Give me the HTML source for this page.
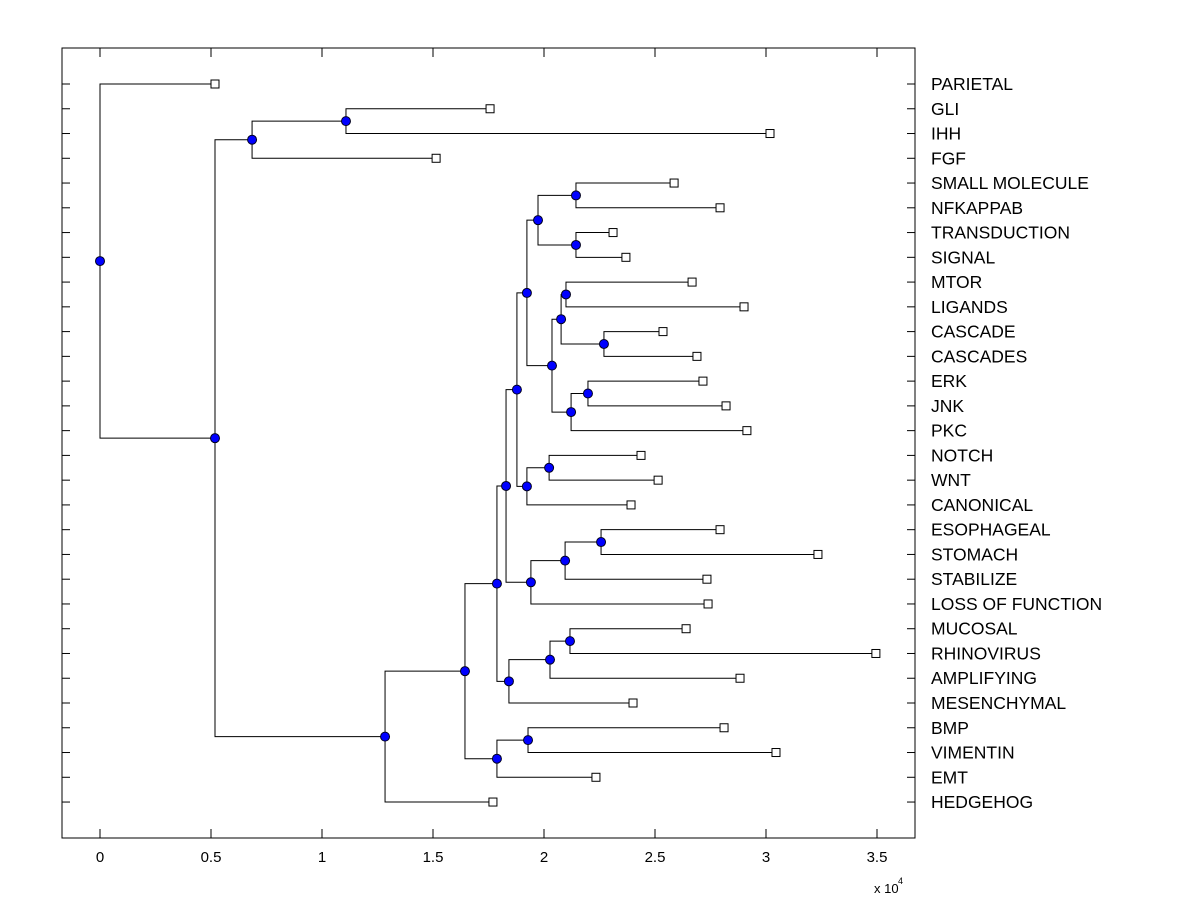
<!DOCTYPE html>
<html><head><meta charset="utf-8"><style>
body{margin:0;background:#fff}
svg text{font-family:"Liberation Sans",Arial,sans-serif}
</style></head><body>
<svg id="chart" width="1200" height="900" viewBox="0 0 1200 900">
<rect x="0" y="0" width="1200" height="900" fill="#fff"/>
<g id="axes"></g><g id="links"></g><g id="marks"></g><g id="labels"></g>
</svg>
<script>
const leafNames=["PARIETAL","GLI","IHH","FGF","SMALL MOLECULE","NFKAPPAB","TRANSDUCTION","SIGNAL","MTOR","LIGANDS","CASCADE","CASCADES","ERK","JNK","PKC","NOTCH","WNT","CANONICAL","ESOPHAGEAL","STOMACH","STABILIZE","LOSS OF FUNCTION","MUCOSAL","RHINOVIRUS","AMPLIFYING","MESENCHYMAL","BMP","VIMENTIN","EMT","HEDGEHOG"];
const leafValues=[0.518,1.757,3.018,1.514,2.586,2.793,2.311,2.369,2.667,2.901,2.536,2.689,2.716,2.820,2.914,2.437,2.514,2.392,2.793,3.234,2.734,2.739,2.640,3.495,2.883,2.401,2.811,3.045,2.234,1.770];
const nodeNames=["root","A","B","D","C","E","G","H","F","J","K","L","I","N","O","P","M","R","S","Q","T","V","W","U","X","Z","AA","Y","BB"];
const nodeValues=[0,0.518,0.685,1.108,1.284,1.644,1.788,1.928,1.788,1.842,2.027,2.117,1.829,1.941,2.095,2.257,1.878,1.923,2.023,1.923,1.973,2.144,2.144,2.036,2.077,2.099,2.270,2.122,2.198];
const nodeChildren=[["PARIETAL","A"],["B","C"],["D","FGF"],["GLI","IHH"],["E","HEDGEHOG"],["F","G"],["H","EMT"],["BMP","VIMENTIN"],["I","J"],["K","MESENCHYMAL"],["L","AMPLIFYING"],["MUCOSAL","RHINOVIRUS"],["M","N"],["O","LOSS OF FUNCTION"],["P","STABILIZE"],["ESOPHAGEAL","STOMACH"],["Q","R"],["S","CANONICAL"],["NOTCH","WNT"],["T","U"],["V","W"],["SMALL MOLECULE","NFKAPPAB"],["TRANSDUCTION","SIGNAL"],["X","Y"],["Z","AA"],["MTOR","LIGANDS"],["CASCADE","CASCADES"],["BB","PKC"],["ERK","JNK"]];
const xTicks=[0,0.5,1,1.5,2,2.5,3,3.5];
const xTickLabels=["0","0.5","1","1.5","2","2.5","3","3.5"];

const NS="http://www.w3.org/2000/svg";
const L=62,R=915,T=48,B=838;
const xs=v=>100+v*222;
const ys=i=>84+i*24.76;
function mk(tag,attrs,parent){const e=document.createElementNS(NS,tag);for(const k in attrs)e.setAttribute(k,attrs[k]);document.getElementById(parent).appendChild(e);return e;}

let box=mk('rect',{x:L,y:T,width:R-L,height:B-T,fill:'none',stroke:'#000','stroke-width':1},'axes');


xTicks.forEach((t,i)=>{
  const x=xs(t);
  let tb=mk('line',{x1:x,y1:B,x2:x,y2:B-9,stroke:'#000'},'axes');
  
  
  let tt=mk('line',{x1:x,y1:T,x2:x,y2:T+9,stroke:'#000'},'axes');
  
  
  let lb=mk('text',{x:x,y:862,'font-size':15,'text-anchor':'middle'},'axes');
  lb.textContent=xTickLabels[i];
  
  
});
let ex=mk('text',{x:874,y:893,'font-size':13},'axes');
ex.textContent='x 10';


let ex2=mk('text',{x:898,y:884,'font-size':9},'axes');
ex2.textContent='4';



const pos={};
leafNames.forEach((n,i)=>{pos[n]={x:xs(leafValues[i]),y:ys(i)};});
function resolve(name){
  if(pos[name])return pos[name];
  const k=nodeNames.indexOf(name);
  const a=resolve(nodeChildren[k][0]),b=resolve(nodeChildren[k][1]);
  pos[name]={x:xs(nodeValues[k]),y:(a.y+b.y)/2};
  return pos[name];
}
nodeNames.forEach(resolve);

leafNames.forEach((n,i)=>{
  const y=ys(i);
  let t1=mk('line',{x1:L,y1:y,x2:L+8,y2:y,stroke:'#000'},'axes');
  
  
  let t2=mk('line',{x1:R-8,y1:y,x2:R,y2:y,stroke:'#000'},'axes');
  
  
  let lb=mk('text',{x:931,y:y+6,'font-size':17.5},'labels');
  lb.textContent=n;
  
  
});

nodeNames.forEach((n,k)=>{
  const p=pos[n];
  nodeChildren[k].forEach(c=>{
    const q=pos[c];
    let ln=mk('polyline',{points:`${p.x},${p.y} ${p.x},${q.y} ${q.x},${q.y}`,fill:'none',stroke:'#000','stroke-width':1},'links');
    
    
  });
});
leafNames.forEach(n=>{
  const p=pos[n];
  let s=mk('rect',{x:p.x-4,y:p.y-4,width:8,height:8,fill:'#fff',stroke:'#000'},'marks');
  
  
});
nodeNames.forEach(n=>{
  const p=pos[n];
  let c=mk('circle',{cx:p.x,cy:p.y,r:4.5,fill:'#0000ff',stroke:'#000020','stroke-width':1},'marks');
  
  
});
</script>
</body></html>
